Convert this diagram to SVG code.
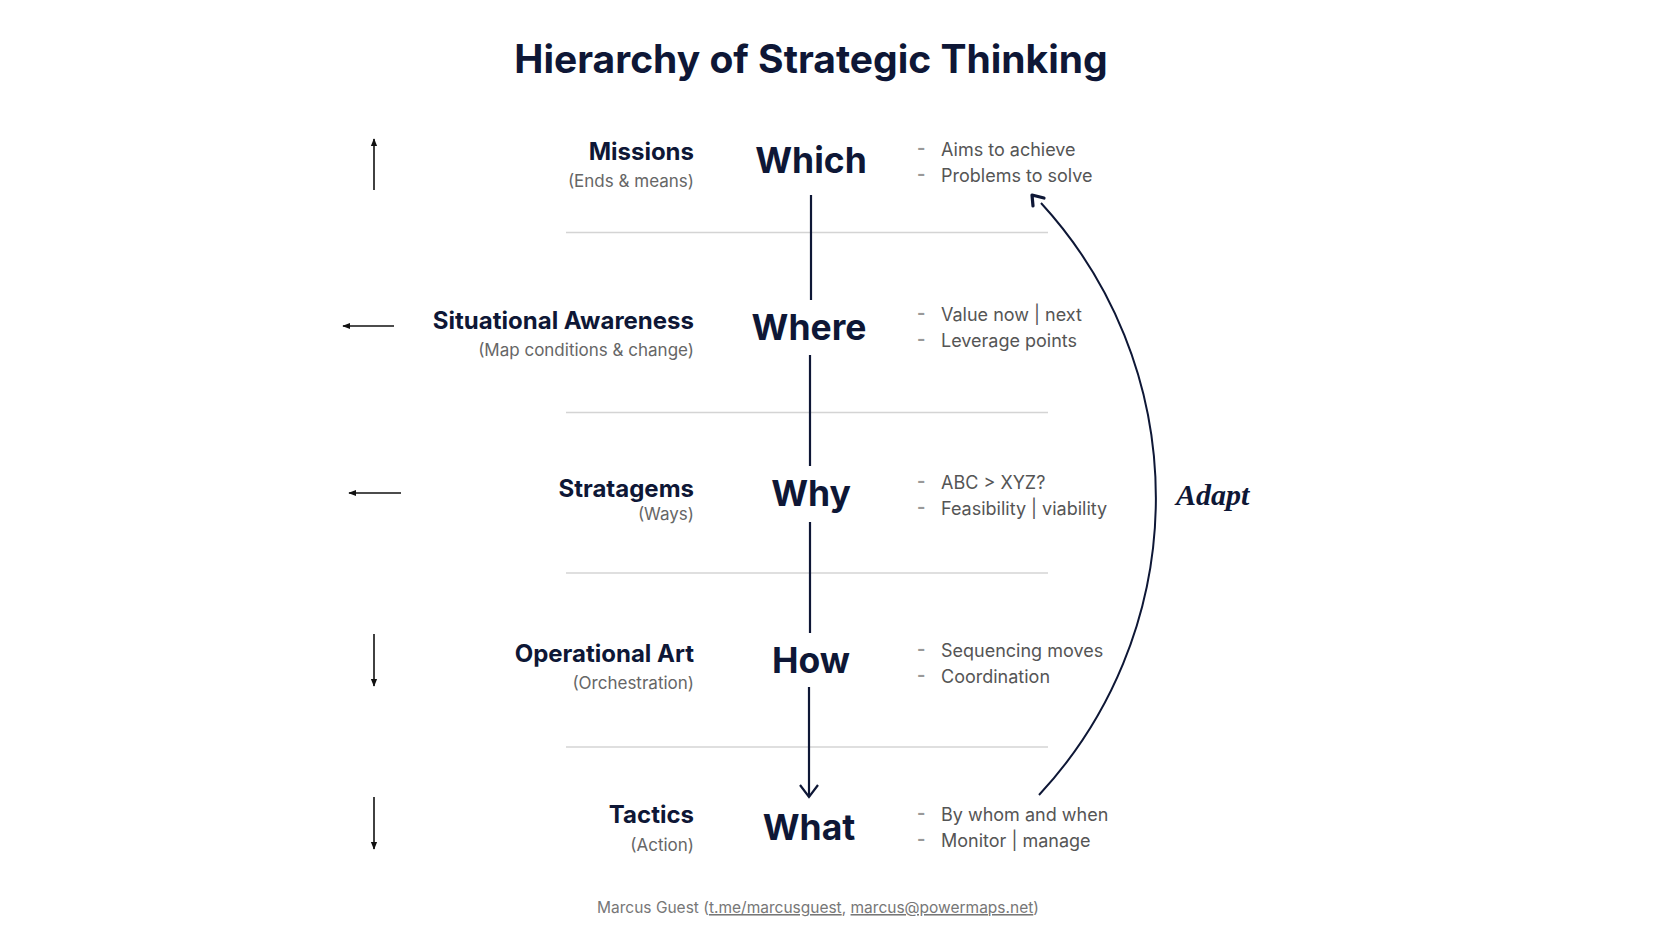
<svg xmlns="http://www.w3.org/2000/svg" width="1680" height="945" viewBox="0 0 1680 945">
<defs>
<style>
.t{font-family:Inter,"Noto Sans","Liberation Sans",sans-serif}
.title{font-size:39px;font-weight:700;fill:#0e1736;text-anchor:middle}
.lbl{font-size:24px;font-weight:700;fill:#0e1736;text-anchor:end}
.sub{font-size:17px;fill:#666;text-anchor:end}
.q{font-size:35.5px;font-weight:700;fill:#0e1736;text-anchor:middle}
.b{font-size:18px;fill:#555}
.d{font-size:18px;font-weight:700;fill:#999}
.sep{stroke:#d4d4d4;stroke-width:1.5}
.ar{stroke:#111;stroke-width:1.6;fill:none}
.vl{stroke:#0e1736;stroke-width:2.2;fill:none}
.foot{font-size:15.5px;fill:#777;text-anchor:middle}
</style>
<marker id="ah" viewBox="0 0 10 10" refX="9" refY="5" markerWidth="8" markerHeight="8" orient="auto" markerUnits="userSpaceOnUse">
<path d="M0,1 L10,5 L0,9 Z" fill="#111"/>
</marker>
</defs>
<rect width="1680" height="945" fill="#fff"/>
<text class="t title" x="811" y="73">Hierarchy of Strategic Thinking</text>

<g id="separators">
<line class="sep" x1="566" y1="232.5" x2="1048" y2="232.5"/>
<line class="sep" x1="566" y1="412.5" x2="1048" y2="412.5"/>
<line class="sep" x1="566" y1="573" x2="1048" y2="573"/>
<line class="sep" x1="566" y1="747" x2="1048" y2="747"/>
</g>

<g id="missions">
<text class="t lbl" x="694" y="160">Missions</text>
<text class="t sub" x="694" y="187">(Ends &amp; means)</text>
<text class="t q" x="811" y="173">Which</text>
<text class="t d" x="917" y="154">-</text><text class="t b" x="941" y="156">Aims to achieve</text>
<text class="t d" x="917" y="180">-</text><text class="t b" x="941" y="182">Problems to solve</text>
</g>

<g id="situational">
<text class="t lbl" x="694" y="329">Situational Awareness</text>
<text class="t sub" x="694" y="356">(Map conditions &amp; change)</text>
<text class="t q" x="809" y="340">Where</text>
<text class="t d" x="917" y="319">-</text><text class="t b" x="941" y="321">Value now | next</text>
<text class="t d" x="917" y="345">-</text><text class="t b" x="941" y="347">Leverage points</text>
</g>

<g id="stratagems">
<text class="t lbl" x="694" y="497">Stratagems</text>
<text class="t sub" x="694" y="520">(Ways)</text>
<text class="t q" x="811" y="506">Why</text>
<text class="t d" x="917" y="487">-</text><text class="t b" x="941" y="489">ABC &gt; XYZ?</text>
<text class="t d" x="917" y="513">-</text><text class="t b" x="941" y="515">Feasibility | viability</text>
</g>

<g id="operational">
<text class="t lbl" x="694" y="662">Operational Art</text>
<text class="t sub" x="694" y="689">(Orchestration)</text>
<text class="t q" x="811" y="673">How</text>
<text class="t d" x="917" y="655">-</text><text class="t b" x="941" y="657">Sequencing moves</text>
<text class="t d" x="917" y="681">-</text><text class="t b" x="941" y="683">Coordination</text>
</g>

<g id="tactics">
<text class="t lbl" x="694" y="823">Tactics</text>
<text class="t sub" x="694" y="851">(Action)</text>
<text class="t q" x="809" y="840">What</text>
<text class="t d" x="917" y="819">-</text><text class="t b" x="941" y="821">By whom and when</text>
<text class="t d" x="917" y="845">-</text><text class="t b" x="941" y="847">Monitor | manage</text>
</g>

<g id="adapt">
<text x="1176" y="505" font-family="'Liberation Serif',serif" font-style="italic" font-weight="700" font-size="30" fill="#0e1736">Adapt</text>
</g>

<g id="connectors">
<line class="ar" x1="374" y1="190" x2="374" y2="139" marker-end="url(#ah)"/>
<line class="ar" x1="394" y1="326" x2="343" y2="326" marker-end="url(#ah)"/>
<line class="ar" x1="401" y1="493" x2="349" y2="493" marker-end="url(#ah)"/>
<line class="ar" x1="374" y1="634" x2="374" y2="686" marker-end="url(#ah)"/>
<line class="ar" x1="374" y1="797" x2="374" y2="849" marker-end="url(#ah)"/>
<line class="vl" x1="811" y1="195" x2="811" y2="300"/>
<line class="vl" x1="810" y1="355" x2="810" y2="466"/>
<line class="vl" x1="810" y1="522" x2="810" y2="633"/>
<line class="vl" x1="809" y1="687" x2="809" y2="797"/>
<path class="vl" d="M800,785 L809,797 L818,785"/>
<path d="M1039,795 A436,436 0 0 0 1041,203" fill="none" stroke="#0e1736" stroke-width="2"/>
<path d="M1033,206 L1032,195 L1044,198" fill="none" stroke="#0e1736" stroke-width="3.2" stroke-linecap="round" stroke-linejoin="round"/>
</g>

<text class="t foot" x="818" y="913">Marcus Guest (<tspan text-decoration="underline">t.me/marcusguest</tspan>, <tspan text-decoration="underline">marcus@powermaps.net</tspan>)</text>
</svg>
